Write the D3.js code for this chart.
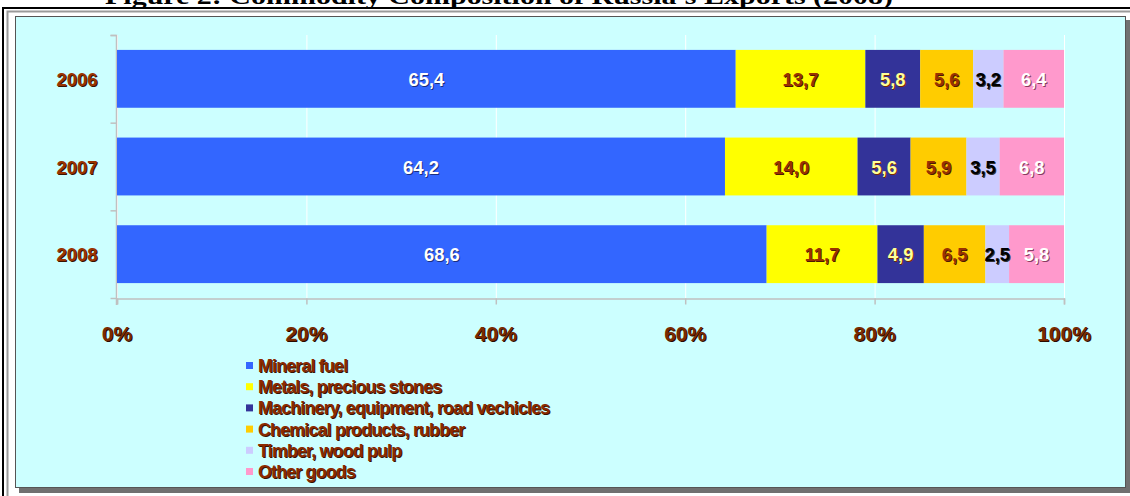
<!DOCTYPE html>
<html>
<head>
<meta charset="utf-8">
<script src="https://d3js.org/d3.v7.min.js"></script>
<style>
  body { margin: 0; background: #fff; }
  svg { display: block; }
  text { font-family: Arial, "Liberation Sans", sans-serif; }
</style>
</head>
<body>
<script>
// chart data
const years = ["2006", "2007", "2008"];
const groups = ["Mineral fuel", "Metals, precious stones", "Machinery, equipment, road vechicles",
                "Chemical products, rubber", "Timber, wood pulp", "Other goods"];
const mineralFuel = [65.4, 64.2, 68.6];
const metals = [13.7, 14.0, 11.7];
const machinery = [5.8, 5.6, 4.9];
const chemicals = [5.6, 5.9, 6.5];
const timber = [3.2, 3.5, 2.5];
const other = [6.4, 6.8, 5.8];
const tickValues = [0, 20, 40, 60, 80, 100];

const colors = ["#3366ff", "#ffff00", "#333399", "#ffcc00", "#ccccff", "#ff99cc"];
// label fill / shadow per series
const labelFill = ["#ffffff", "#993300", "#ffff99", "#993300", "#000000", "#ffffff"];
const labelShadow = ["#1a2f80", "#4d1a00", "#7a2a00", "#4d1a00", "#333333", "#8a3a60"];

const W = 1130, H = 496;
const svg = d3.select("body").append("svg").attr("width", W).attr("height", H);

// title, partly cut off at top like the scan
svg.append("text")
    .attr("x", 499).attr("y", 4)
    .attr("text-anchor", "middle")
    .attr("textLength", 788).attr("lengthAdjust", "spacingAndGlyphs")
    .style("font-family", "'Liberation Serif', 'Times New Roman', serif")
    .style("font-weight", "bold").style("font-size", "24px")
    .text("Figure 2: Commodity Composition of Russia's Exports (2008)");

// frames
svg.append("rect").attr("x", 2).attr("y", 7).attr("width", 2).attr("height", H - 7).attr("fill", "#000");
svg.append("rect").attr("x", 2).attr("y", 7).attr("width", W).attr("height", 2).attr("fill", "#000");
svg.append("rect").attr("x", 7.5).attr("y", 11.5).attr("width", W).attr("height", H)
    .attr("fill", "none").attr("stroke", "#9a9a9a").attr("stroke-width", 2);
svg.append("rect").attr("x", 19).attr("y", 20).attr("width", 1111).attr("height", 473).attr("fill", "#707070");
svg.append("rect").attr("x", 15.5).attr("y", 16.5).attr("width", 1110).attr("height", 471)
    .attr("fill", "#ccffff").attr("stroke", "#555").attr("stroke-width", 1);

// scales
const x = d3.scaleLinear().domain([0, 100]).range([117, 1064]);
const y = d3.scaleBand().domain(years).range([35, 298]).paddingInner(0.34).paddingOuter(0.17);

// gridlines
svg.append("g").selectAll("line").data(tickValues).join("line")
    .attr("x1", d => x(d) + 0.5).attr("x2", d => x(d) + 0.5)
    .attr("y1", 35).attr("y2", 298)
    .attr("stroke", "#ffffff").attr("stroke-width", 1);

// axes
const xAxis = svg.append("g").attr("transform", "translate(0,298.5)")
    .call(d3.axisBottom(x).tickValues(tickValues).tickSize(6).tickFormat(""));
xAxis.select(".domain").attr("stroke", "#c0c0c0").attr("stroke-width", 1.5);
xAxis.selectAll(".tick line").attr("stroke", "#c0c0c0").attr("stroke-width", 1.5);

const yAxis = svg.append("g").attr("transform", "translate(116.5,0)")
    .call(d3.axisLeft(d3.scaleLinear().domain([0, 3]).range([35, 298])).ticks(3).tickSize(6).tickFormat(""));
yAxis.select(".domain").attr("stroke", "#c0c0c0").attr("stroke-width", 1.5)
    .attr("d", "M-6,35.5H0V305");
yAxis.selectAll(".tick line").attr("stroke", "#c0c0c0").attr("stroke-width", 1.5);

// shadowed text helper
function shadowText(g, px, py, txt, fill, shadow, size, weight, sx) {
  const t = g.append("g").attr("transform", `translate(${px},${py}) scale(${sx || 1},1)`);
  [[1, 1, shadow], [0, 0, fill]].forEach(([dx, dy, c]) => {
    t.append("text").attr("x", dx).attr("y", dy)
      .attr("text-anchor", "middle")
      .style("font-size", size + "px").style("font-weight", weight)
      .attr("fill", c).text(txt);
  });
  return t;
}

// stacked data
const table = years.map((yr, i) => ({
  year: yr, s0: mineralFuel[i], s1: metals[i], s2: machinery[i],
  s3: chemicals[i], s4: timber[i], s5: other[i]
}));
const keys = ["s0", "s1", "s2", "s3", "s4", "s5"];
const stack = d3.stack().keys(keys).offset(d3.stackOffsetExpand);
const series = stack(table);

const bars = svg.append("g");
series.forEach((s, k) => {
  bars.append("g").selectAll("rect").data(s).join("rect")
    .attr("x", d => x(d[0] * 100))
    .attr("width", d => x(d[1] * 100) - x(d[0] * 100))
    .attr("y", d => y(d.data.year))
    .attr("height", y.bandwidth())
    .attr("fill", colors[k]);
});

// bar value labels
const labels = svg.append("g");
series.forEach((s, k) => {
  s.forEach(d => {
    const cx = (x(d[0] * 100) + x(d[1] * 100)) / 2;
    const cy = y(d.data.year) + y.bandwidth() / 2 + 7;
    const txt = d3.format(".1f")(d.data[keys[k]]).replace(".", ",");
    shadowText(labels, cx, cy, txt, labelFill[k], labelShadow[k], 19, "bold", 0.97);
  });
});

// year labels
years.forEach(yr => {
  shadowText(svg, 77, y(yr) + y.bandwidth() / 2 + 7, yr, "#993300", "#3a1200", 19, "bold", 0.97);
});

// x tick labels
tickValues.forEach(v => {
  shadowText(svg, x(v), 341, v + "%", "#7a2a00", "#2a0a00", 21, "bold", 1);
});

// legend
const legend = svg.append("g");
groups.forEach((name, i) => {
  const ly = 366 + i * 21.2;
  legend.append("rect").attr("x", 246).attr("y", ly - 4).attr("width", 7).attr("height", 7)
    .attr("fill", colors[i]);
  const t = legend.append("g").attr("transform", `translate(258,${ly + 6}) scale(1.02,1)`);
  [[1, 1, "#3a1200"], [0, 0, "#8b2a00"]].forEach(([dx, dy, c]) => {
    t.append("text").attr("x", dx).attr("y", dy)
      .style("font-size", "17.5px").style("font-weight", "bold").style("letter-spacing", "-0.8px")
      .attr("fill", c).text(name);
  });
});
</script>
</body>
</html>
